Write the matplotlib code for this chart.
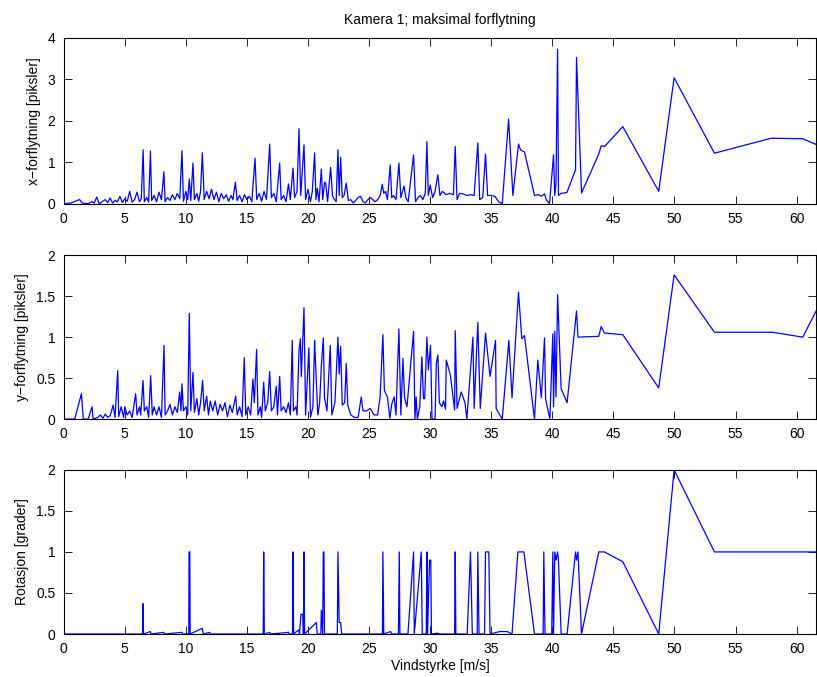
import matplotlib
matplotlib.use("Agg")
import matplotlib.pyplot as plt

plt.rcParams["font.family"] = ["Liberation Sans", "DejaVu Sans"]

# x-forflytning (top panel): wind speed, displacement
x_top = [0.0, 0.6, 1.1, 1.3, 1.5, 2.0, 2.3, 2.5, 2.7, 2.9, 3.2, 3.4, 3.6, 3.8, 4.0,
         4.2, 4.4, 4.6, 4.8, 5.0, 5.2, 5.4, 5.6, 5.8, 6.0, 6.2, 6.35, 6.5, 6.6, 6.8,
         6.95, 7.1, 7.2, 7.4, 7.6, 7.8, 8.0, 8.2, 8.3, 8.5, 8.7, 8.9, 9.1, 9.3, 9.5,
         9.68, 9.8, 10.0, 10.15, 10.28, 10.4, 10.58, 10.7, 10.9, 11.05, 11.2, 11.35,
         11.5, 11.7, 11.9, 12.1, 12.3, 12.5, 12.7, 12.9, 13.1, 13.3, 13.5, 13.7,
         13.85, 14.05, 14.2, 14.4, 14.6, 14.8, 15.0, 15.2, 15.4, 15.66, 15.8, 16.0,
         16.2, 16.4, 16.6, 16.86, 17.0, 17.2, 17.4, 17.68, 17.8, 18.0, 18.2, 18.4,
         18.55, 18.77, 18.9, 19.1, 19.26, 19.4, 19.67, 19.8, 20.0, 20.2, 20.35,
         20.54, 20.65, 20.76, 20.9, 21.09, 21.2, 21.36, 21.45, 21.6, 21.85, 22.0,
         22.1, 22.3, 22.45, 22.55, 22.67, 22.8, 22.95, 23.13, 23.3, 23.5, 23.7, 23.9,
         24.1, 24.3, 24.5, 24.7, 24.9, 25.1, 25.3, 25.5, 25.7, 25.9, 26.08, 26.2,
         26.35, 26.5, 26.73, 26.85, 27.0, 27.2, 27.44, 27.6, 27.86, 28.0, 28.2,
         28.64, 28.8, 29.0, 29.2, 29.4, 29.6, 29.73, 29.85, 30.0, 30.2, 30.4, 30.63,
         30.8, 31.0, 31.3, 31.6, 31.9, 32.05, 32.2, 32.4, 32.7, 33.0, 33.3, 33.6,
         33.9, 34.05, 34.3, 34.53, 34.7, 35.0, 35.3, 35.6, 35.9, 36.42, 36.77,
         37.23, 37.4, 37.72, 38.54, 38.9, 39.1, 39.36, 39.5, 39.77, 40.1, 40.2,
         40.3, 40.43, 40.5, 40.7, 41.19, 41.9, 41.98, 42.39, 43.8, 44.0, 44.27,
         45.77, 48.71, 49.97, 53.27, 57.91, 60.5, 61.6]
y_top = [0.0, 0.02, 0.08, 0.1, 0.02, 0.0, 0.05, 0.02, 0.16, 0.0, 0.06, 0.1, 0.03, 0.14, 0.02,
         0.08, 0.05, 0.18, 0.03, 0.12, 0.06, 0.3, 0.04, 0.1, 0.28, 0.05, 0.12, 1.3, 0.05, 0.15,
         0.04, 1.27, 0.08, 0.2, 0.05, 0.28, 0.1, 0.77, 0.05, 0.15, 0.08, 0.22, 0.1, 0.25, 0.12,
         1.28, 0.06, 0.3, 0.1, 0.6, 0.08, 0.98, 0.1, 0.25, 0.06, 0.3, 1.23,
         0.1, 0.3, 0.12, 0.35, 0.1, 0.28, 0.05, 0.25, 0.12, 0.22, 0.06, 0.2,
         0.1, 0.52, 0.08, 0.2, 0.05, 0.22, 0.1, 0.18, 0.05, 1.1, 0.1, 0.25,
         0.06, 0.3, 0.1, 1.44, 0.15, 0.25, 0.05, 0.98, 0.1, 0.2, 0.05, 0.48,
         0.1, 0.86, 0.15, 0.3, 1.81, 0.2, 1.42, 0.1, 0.35, 0.05, 0.3,
         1.23, 0.1, 0.37, 0.05, 0.84, 0.1, 0.52, 0.49, 0.05, 0.88, 0.2,
         0.13, 0.05, 1.3, 0.2, 1.12, 0.15, 0.2, 0.5, 0.08, 0.1, 0.02, 0.08,
         0.15, 0.18, 0.05, 0.02, 0.1, 0.15, 0.1, 0.05, 0.1, 0.2, 0.47, 0.25,
         0.3, 0.1, 0.94, 0.15, 0.2, 0.1, 0.98, 0.15, 0.43, 0.15, 0.05,
         1.18, 0.05, 0.15, 0.2, 0.1, 0.25, 1.5, 0.2, 0.45, 0.15, 0.3, 0.7,
         0.2, 0.3, 0.22, 0.25, 0.22, 1.38, 0.1, 0.25, 0.24, 0.2, 0.22, 0.2,
         1.47, 0.1, 0.15, 1.2, 0.2, 0.2, 0.18, 0.05, 0.0, 2.04, 0.2,
         1.44, 1.3, 1.25, 0.2, 0.22, 0.18, 0.24, 0.1, 0.0, 1.18, 0.2,
         0.5, 3.73, 0.2, 0.25, 0.27, 0.82, 3.53, 0.26, 1.2, 1.4, 1.38,
         1.86, 0.3, 3.04, 1.22, 1.58, 1.57, 1.43]

# y-forflytning (middle panel)
x_mid = [0.0, 0.05, 0.9, 1.45, 1.6, 2.0, 2.32, 2.4, 2.8, 3.0, 3.2, 3.4, 3.6, 3.8, 4.04,
         4.2, 4.42, 4.5, 4.7, 4.9, 5.0, 5.2, 5.4, 5.6, 5.89, 6.0, 6.2, 6.3, 6.49, 6.6,
         6.8, 6.95, 7.12, 7.25, 7.4, 7.6, 7.8, 8.0, 8.21, 8.3, 8.5, 8.7, 8.9, 9.1, 9.3,
         9.49, 9.6, 9.68, 9.8, 10.0, 10.15, 10.28, 10.4, 10.58, 10.7, 10.9, 11.05,
         11.2, 11.37, 11.5, 11.7, 11.85, 12.0, 12.2, 12.4, 12.6, 12.8, 13.0, 13.2,
         13.4, 13.6, 13.8, 14.08, 14.2, 14.4, 14.6, 14.78, 14.9, 15.1, 15.3, 15.49,
         15.6, 15.79, 15.9, 16.1, 16.2, 16.37, 16.5, 16.7, 16.86, 17.0, 17.2, 17.4,
         17.5, 17.68, 17.8, 18.0, 18.2, 18.4, 18.55, 18.71, 18.8, 19.0, 19.1, 19.26,
         19.37, 19.45, 19.67, 19.8, 20.07, 20.2, 20.4, 20.54, 20.6, 20.8, 20.95,
         21.09, 21.25, 21.35, 21.55, 21.82, 21.95, 22.2, 22.45, 22.55, 22.67, 22.8,
         23.0, 23.13, 23.25, 23.5, 23.8, 24.1, 24.36, 24.5, 24.8, 25.1, 25.4, 25.7,
         25.9, 26.13, 26.25, 26.5, 26.7, 26.85, 27.05, 27.2, 27.44, 27.6, 27.77,
         27.9, 28.1, 28.64, 28.75, 28.85, 28.95, 29.15, 29.32, 29.45, 29.55, 29.73,
         29.85, 30.03, 30.15, 30.4, 30.5, 30.63, 30.75, 30.95, 31.1, 31.25, 31.32,
         31.65, 32.0, 32.05, 32.2, 32.54, 32.85, 33.0, 33.5, 33.6, 33.9, 34.1, 34.53,
         34.9, 35.35, 35.4, 35.9, 36.44, 36.7, 37.23, 37.5, 37.72, 38.54, 38.81,
         39.1, 39.36, 39.45, 39.8, 40.04, 40.1, 40.2, 40.3, 40.43, 40.72, 41.21,
         41.98, 42.1, 43.8, 44.0, 44.27, 45.77, 48.71, 49.97, 53.27, 58.0, 60.5, 61.6]
y_mid = [0.16, 0.0, 0.0, 0.31, 0.0, 0.0, 0.15, 0.0, 0.02, 0.05, 0.01, 0.06, 0.02, 0.04, 0.17,
         0.02, 0.59, 0.03, 0.15, 0.02, 0.15, 0.05, 0.1, 0.02, 0.31, 0.05, 0.15, 0.05, 0.47, 0.1,
         0.15, 0.02, 0.53, 0.05, 0.15, 0.05, 0.15, 0.02, 0.9, 0.05, 0.1, 0.18, 0.05, 0.15, 0.08,
         0.33, 0.1, 0.43, 0.1, 0.15, 0.05, 1.29, 0.1, 0.57, 0.08, 0.25, 0.05,
         0.2, 0.47, 0.1, 0.28, 0.05, 0.22, 0.1, 0.22, 0.05, 0.18, 0.1, 0.2,
         0.03, 0.17, 0.08, 0.28, 0.05, 0.15, 0.03, 0.75, 0.05, 0.15, 0.05, 0.49,
         0.2, 0.85, 0.05, 0.15, 0.02, 0.45, 0.1, 0.2, 0.58, 0.1, 0.15, 0.4,
         0.05, 0.52, 0.1, 0.15, 0.08, 0.2, 0.05, 0.96, 0.1, 0.15, 0.05, 0.83,
         0.98, 0.52, 1.36, 0.05, 0.87, 0.02, 0.15, 0.96, 0.73, 0.05, 0.2,
         0.65, 0.99, 0.26, 0.1, 0.9, 0.05, 0.2, 1.0, 0.55, 0.89, 0.17,
         0.2, 0.68, 0.17, 0.05, 0.02, 0.02, 0.27, 0.1, 0.1, 0.13, 0.05, 0.05,
         0.27, 1.03, 0.35, 0.27, 0.01, 0.18, 0.27, 0.05, 1.1, 0.05, 0.74,
         0.26, 0.15, 1.07, 0.0, 0.27, 0.0, 0.15, 0.76, 0.25, 0.25, 1.0,
         0.6, 0.9, 0.0, 0.0, 0.68, 0.78, 0.2, 0.15, 0.22, 0.12, 0.72,
         0.54, 0.11, 1.08, 0.13, 0.33, 0.2, 0.0, 1.0, 0.13, 1.18, 0.13, 1.05,
         0.52, 0.96, 0.13, 0.0, 0.96, 0.26, 1.55, 0.98, 1.02, 0.0, 0.72,
         0.26, 0.99, 0.24, 0.0, 1.04, 0.15, 1.07, 0.27, 1.52, 0.37, 0.2,
         1.32, 1.0, 1.01, 1.13, 1.05, 1.03, 0.38, 1.76, 1.06, 1.06, 1.0, 1.32]

# Rotasjon (bottom panel)
x_rot = [0.0, 6.45, 6.49, 6.53, 7.09, 7.15, 8.18, 8.25, 9.68, 9.75, 10.24, 10.26, 10.32,
         10.35, 11.35, 11.42, 11.95, 12.0, 16.33, 16.37, 16.42, 16.86, 16.9, 18.41, 18.45,
         18.73, 18.77, 18.82, 19.23, 19.3, 19.42, 19.58, 19.62, 19.67, 19.72, 20.68,
         20.75, 21.05, 21.09, 21.2, 21.25, 21.3, 21.35, 22.4, 22.45, 22.55, 22.67, 22.75,
         26.09, 26.13, 26.2, 26.76, 26.85, 27.4, 27.47, 27.52, 28.18, 28.64, 28.7,
         29.27, 29.35, 29.68, 29.73, 29.78, 29.95, 30.05, 30.1, 30.63, 30.7, 32.0,
         32.05, 32.1, 33.03, 33.3, 33.45, 33.85, 33.9, 34.0, 34.45, 34.53, 34.8, 34.9,
         35.7, 36.3, 36.7, 37.18, 37.67, 38.54, 39.25, 39.3, 39.4, 39.95, 40.04, 40.1,
         40.2, 40.3, 40.43, 40.5, 40.72, 41.21, 41.9, 41.98, 42.1, 42.39, 43.8, 44.27,
         45.77, 48.71, 49.97, 53.27, 61.6]
y_rot = [0.0, 0.0, 0.37, 0.0, 0.03, 0.0, 0.02, 0.0, 0.02, 0.0, 0.0, 1.0, 1.0,
         0.0, 0.07, 0.0, 0.02, 0.0, 0.0, 1.0, 0.0, 0.02, 0.0, 0.02, 0.0,
         0.0, 1.0, 0.0, 0.05, 0.0, 0.24, 0.24, 0.0, 1.0, 0.0, 0.14,
         0.0, 0.0, 0.29, 0.0, 1.0, 1.0, 0.0, 0.0, 1.0, 0.14, 0.14, 0.0,
         0.0, 1.0, 0.0, 0.03, 0.0, 0.0, 1.0, 0.0, 0.0, 1.0, 0.0,
         1.0, 0.0, 0.0, 1.0, 0.0, 0.9, 0.9, 0.0, 0.01, 0.0, 0.0,
         1.0, 0.0, 0.0, 1.0, 0.0, 0.0, 1.0, 0.0, 0.0, 1.0, 1.0, 0.0,
         0.03, 0.03, 0.0, 1.0, 1.0, 0.0, 0.0, 1.0, 0.0, 0.0, 1.0, 0.0,
         1.0, 0.9, 1.0, 0.9, 0.0, 0.0, 1.0, 0.9, 1.0, 0.0, 1.0, 1.0,
         0.88, 0.0, 2.0, 1.0, 1.0]

title = "Kamera 1; maksimal forflytning"
xlabel = "Vindstyrke [m/s]"
ylabels = ["x\u2212forflytning [piksler]", "y\u2212forflytning [piksler]", "Rotasjon [grader]"]
yticks = [[0, 1, 2, 3, 4], [0, 0.5, 1, 1.5, 2], [0, 0.5, 1, 1.5, 2]]
yticklabels = [["0", "1", "2", "3", "4"], ["0", "0.5", "1", "1.5", "2"], ["0", "0.5", "1", "1.5", "2"]]
ylims = [(0, 4), (0, 2), (0, 2)]
xticks = list(range(0, 65, 5))

fig = plt.figure(figsize=(8.17, 6.77), dpi=100)
rects = [[0.078, 0.699, 0.921, 0.245],
         [0.078, 0.381, 0.921, 0.242],
         [0.078, 0.0635, 0.921, 0.2425]]
series = [(x_top, y_top), (x_mid, y_mid), (x_rot, y_rot)]

for i, (rect, (xs, ys)) in enumerate(zip(rects, series)):
    ax = fig.add_axes(rect)
    ax.plot(xs, ys, color=(0, 0, 1), lw=0.9)
    ax.set_xlim(0, 61.6)
    ax.set_ylim(*ylims[i])
    ax.set_xticks(xticks)
    ax.set_yticks(yticks[i])
    ax.set_yticklabels(yticklabels[i])
    ax.tick_params(direction="in", top=True, right=True, length=6,
                   width=0.6, labelsize=10, pad=6)
    for s in ax.spines.values():
        s.set_linewidth(0.8)
    ax.set_ylabel(ylabels[i], fontsize=10, labelpad=5)
    if i == 0:
        ax.set_title(title, fontsize=10, pad=10)
    if i == 2:
        ax.set_xlabel(xlabel, fontsize=10, labelpad=2)

fig.savefig("out.png", dpi=100)
